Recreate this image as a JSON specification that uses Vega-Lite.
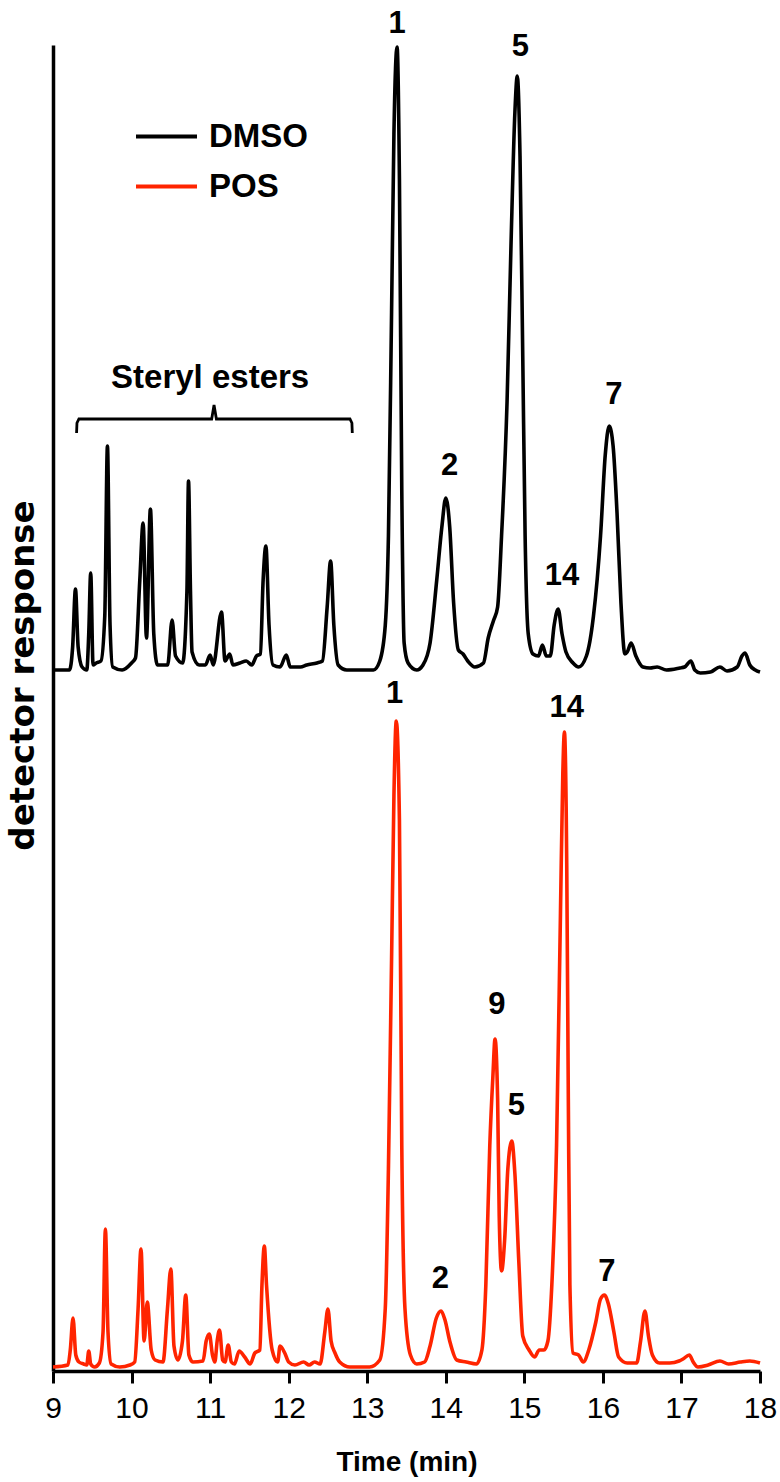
{
  "$schema": "https://vega.github.io/schema/vega-lite/v6.json",
  "width": 707,
  "height": 1326,
  "autosize": {"type": "none"},
  "padding": {"left": 53, "top": 45, "right": 20, "bottom": 111},
  "background": "white",
  "config": {"view": {"stroke": null}, "font": "Liberation Sans"},
  "datasets": {
    "traces": [
      {"series":"DMSO","time":9.00,"response":701},{"series":"DMSO","time":9.21,"response":701},{"series":"DMSO","time":9.25,"response":724},{"series":"DMSO","time":9.286,"response":782},{"series":"DMSO","time":9.32,"response":724},{"series":"DMSO","time":9.37,"response":704},{"series":"DMSO","time":9.43,"response":701},{"series":"DMSO","time":9.455,"response":737},{"series":"DMSO","time":9.48,"response":798},{"series":"DMSO","time":9.51,"response":706},{"series":"DMSO","time":9.55,"response":708},{"series":"DMSO","time":9.61,"response":710},{"series":"DMSO","time":9.659,"response":755},{"series":"DMSO","time":9.693,"response":925},{"series":"DMSO","time":9.726,"response":746},{"series":"DMSO","time":9.76,"response":704},{"series":"DMSO","time":9.88,"response":701},{"series":"DMSO","time":10.0,"response":708},{"series":"DMSO","time":10.05,"response":713},{"series":"DMSO","time":10.105,"response":791},{"series":"DMSO","time":10.147,"response":848},{"series":"DMSO","time":10.19,"response":733},{"series":"DMSO","time":10.24,"response":862},{"series":"DMSO","time":10.283,"response":737},{"series":"DMSO","time":10.33,"response":706},{"series":"DMSO","time":10.46,"response":706},{"series":"DMSO","time":10.516,"response":751},{"series":"DMSO","time":10.56,"response":715},{"series":"DMSO","time":10.65,"response":708},{"series":"DMSO","time":10.705,"response":780},{"series":"DMSO","time":10.725,"response":890},{"series":"DMSO","time":10.75,"response":780},{"series":"DMSO","time":10.77,"response":719},{"series":"DMSO","time":10.86,"response":706},{"series":"DMSO","time":10.94,"response":706},{"series":"DMSO","time":11.0,"response":716},{"series":"DMSO","time":11.04,"response":706},{"series":"DMSO","time":11.145,"response":759},{"series":"DMSO","time":11.19,"response":710},{"series":"DMSO","time":11.25,"response":717},{"series":"DMSO","time":11.29,"response":706},{"series":"DMSO","time":11.38,"response":708},{"series":"DMSO","time":11.46,"response":710},{"series":"DMSO","time":11.53,"response":706},{"series":"DMSO","time":11.59,"response":715},{"series":"DMSO","time":11.64,"response":717},{"series":"DMSO","time":11.675,"response":791},{"series":"DMSO","time":11.71,"response":825},{"series":"DMSO","time":11.75,"response":746},{"series":"DMSO","time":11.80,"response":706},{"series":"DMSO","time":11.89,"response":704},{"series":"DMSO","time":11.97,"response":716},{"series":"DMSO","time":12.02,"response":704},{"series":"DMSO","time":12.15,"response":704},{"series":"DMSO","time":12.23,"response":706},{"series":"DMSO","time":12.36,"response":708},{"series":"DMSO","time":12.43,"response":710},{"series":"DMSO","time":12.49,"response":764},{"series":"DMSO","time":12.534,"response":810},{"series":"DMSO","time":12.575,"response":746},{"series":"DMSO","time":12.63,"response":706},{"series":"DMSO","time":12.74,"response":701},{"series":"DMSO","time":12.91,"response":701},{"series":"DMSO","time":13.08,"response":701},{"series":"DMSO","time":13.16,"response":710},{"series":"DMSO","time":13.23,"response":746},{"series":"DMSO","time":13.27,"response":835},{"series":"DMSO","time":13.31,"response":1059},{"series":"DMSO","time":13.34,"response":1237},{"series":"DMSO","time":13.38,"response":1324},{"series":"DMSO","time":13.41,"response":1192},{"series":"DMSO","time":13.44,"response":880},{"series":"DMSO","time":13.47,"response":728},{"series":"DMSO","time":13.52,"response":708},{"series":"DMSO","time":13.63,"response":701},{"series":"DMSO","time":13.71,"response":706},{"series":"DMSO","time":13.80,"response":728},{"series":"DMSO","time":13.885,"response":791},{"series":"DMSO","time":13.95,"response":844},{"series":"DMSO","time":14.0,"response":873},{"series":"DMSO","time":14.05,"response":844},{"series":"DMSO","time":14.10,"response":768},{"series":"DMSO","time":14.16,"response":721},{"series":"DMSO","time":14.22,"response":717},{"series":"DMSO","time":14.28,"response":710},{"series":"DMSO","time":14.37,"response":704},{"series":"DMSO","time":14.48,"response":708},{"series":"DMSO","time":14.54,"response":733},{"series":"DMSO","time":14.61,"response":751},{"series":"DMSO","time":14.66,"response":764},{"series":"DMSO","time":14.71,"response":835},{"series":"DMSO","time":14.78,"response":969},{"series":"DMSO","time":14.83,"response":1125},{"series":"DMSO","time":14.88,"response":1259},{"series":"DMSO","time":14.91,"response":1295},{"series":"DMSO","time":14.945,"response":1215},{"series":"DMSO","time":14.98,"response":1014},{"series":"DMSO","time":15.01,"response":835},{"series":"DMSO","time":15.05,"response":737},{"series":"DMSO","time":15.11,"response":717},{"series":"DMSO","time":15.18,"response":715},{"series":"DMSO","time":15.23,"response":726},{"series":"DMSO","time":15.28,"response":715},{"series":"DMSO","time":15.33,"response":715},{"series":"DMSO","time":15.38,"response":746},{"series":"DMSO","time":15.43,"response":762},{"series":"DMSO","time":15.48,"response":737},{"series":"DMSO","time":15.53,"response":719},{"series":"DMSO","time":15.62,"response":708},{"series":"DMSO","time":15.69,"response":704},{"series":"DMSO","time":15.79,"response":715},{"series":"DMSO","time":15.88,"response":755},{"series":"DMSO","time":15.97,"response":835},{"series":"DMSO","time":16.03,"response":916},{"series":"DMSO","time":16.08,"response":945},{"series":"DMSO","time":16.13,"response":925},{"series":"DMSO","time":16.18,"response":858},{"series":"DMSO","time":16.23,"response":768},{"series":"DMSO","time":16.28,"response":717},{"series":"DMSO","time":16.31,"response":719},{"series":"DMSO","time":16.36,"response":728},{"series":"DMSO","time":16.42,"response":715},{"series":"DMSO","time":16.51,"response":704},{"series":"DMSO","time":16.60,"response":703},{"series":"DMSO","time":16.69,"response":704},{"series":"DMSO","time":16.81,"response":701},{"series":"DMSO","time":16.98,"response":703},{"series":"DMSO","time":17.04,"response":704},{"series":"DMSO","time":17.12,"response":710},{"series":"DMSO","time":17.17,"response":701},{"series":"DMSO","time":17.24,"response":698},{"series":"DMSO","time":17.37,"response":699},{"series":"DMSO","time":17.49,"response":704},{"series":"DMSO","time":17.58,"response":700},{"series":"DMSO","time":17.71,"response":704},{"series":"DMSO","time":17.77,"response":715},{"series":"DMSO","time":17.81,"response":718},{"series":"DMSO","time":17.87,"response":706},{"series":"DMSO","time":17.94,"response":701},{"series":"DMSO","time":18.0,"response":699},
      {"series":"POS","time":9.00,"response":4},{"series":"POS","time":9.19,"response":6},{"series":"POS","time":9.22,"response":21},{"series":"POS","time":9.255,"response":53},{"series":"POS","time":9.29,"response":16},{"series":"POS","time":9.33,"response":9},{"series":"POS","time":9.39,"response":7},{"series":"POS","time":9.43,"response":6},{"series":"POS","time":9.455,"response":20},{"series":"POS","time":9.48,"response":7},{"series":"POS","time":9.53,"response":4},{"series":"POS","time":9.59,"response":8},{"series":"POS","time":9.637,"response":39},{"series":"POS","time":9.667,"response":142},{"series":"POS","time":9.70,"response":39},{"series":"POS","time":9.74,"response":7},{"series":"POS","time":9.85,"response":4},{"series":"POS","time":9.98,"response":6},{"series":"POS","time":10.04,"response":9},{"series":"POS","time":10.083,"response":62},{"series":"POS","time":10.12,"response":122},{"series":"POS","time":10.16,"response":30},{"series":"POS","time":10.20,"response":69},{"series":"POS","time":10.25,"response":21},{"series":"POS","time":10.30,"response":11},{"series":"POS","time":10.40,"response":9},{"series":"POS","time":10.457,"response":62},{"series":"POS","time":10.50,"response":102},{"series":"POS","time":10.54,"response":25},{"series":"POS","time":10.59,"response":11},{"series":"POS","time":10.648,"response":30},{"series":"POS","time":10.69,"response":76},{"series":"POS","time":10.73,"response":16},{"series":"POS","time":10.78,"response":9},{"series":"POS","time":10.91,"response":10},{"series":"POS","time":10.95,"response":30},{"series":"POS","time":10.99,"response":37},{"series":"POS","time":11.03,"response":16},{"series":"POS","time":11.06,"response":9},{"series":"POS","time":11.09,"response":30},{"series":"POS","time":11.12,"response":41},{"series":"POS","time":11.16,"response":11},{"series":"POS","time":11.19,"response":9},{"series":"POS","time":11.23,"response":26},{"series":"POS","time":11.27,"response":9},{"series":"POS","time":11.31,"response":7},{"series":"POS","time":11.37,"response":20},{"series":"POS","time":11.44,"response":14},{"series":"POS","time":11.51,"response":7},{"series":"POS","time":11.57,"response":18},{"series":"POS","time":11.633,"response":21},{"series":"POS","time":11.66,"response":86},{"series":"POS","time":11.69,"response":125},{"series":"POS","time":11.718,"response":86},{"series":"POS","time":11.79,"response":21},{"series":"POS","time":11.86,"response":9},{"series":"POS","time":11.89,"response":25},{"series":"POS","time":11.95,"response":18},{"series":"POS","time":12.0,"response":9},{"series":"POS","time":12.08,"response":6},{"series":"POS","time":12.19,"response":9},{"series":"POS","time":12.26,"response":6},{"series":"POS","time":12.33,"response":9},{"series":"POS","time":12.40,"response":7},{"series":"POS","time":12.46,"response":39},{"series":"POS","time":12.50,"response":62},{"series":"POS","time":12.54,"response":30},{"series":"POS","time":12.59,"response":18},{"series":"POS","time":12.65,"response":9},{"series":"POS","time":12.78,"response":4},{"series":"POS","time":13.03,"response":4},{"series":"POS","time":13.16,"response":11},{"series":"POS","time":13.23,"response":63},{"series":"POS","time":13.27,"response":202},{"series":"POS","time":13.31,"response":412},{"series":"POS","time":13.34,"response":575},{"series":"POS","time":13.37,"response":650},{"series":"POS","time":13.41,"response":551},{"series":"POS","time":13.44,"response":225},{"series":"POS","time":13.48,"response":63},{"series":"POS","time":13.55,"response":16},{"series":"POS","time":13.63,"response":7},{"series":"POS","time":13.73,"response":9},{"series":"POS","time":13.80,"response":25},{"series":"POS","time":13.88,"response":53},{"series":"POS","time":13.94,"response":60},{"series":"POS","time":13.99,"response":51},{"series":"POS","time":14.05,"response":30},{"series":"POS","time":14.14,"response":11},{"series":"POS","time":14.26,"response":9},{"series":"POS","time":14.39,"response":7},{"series":"POS","time":14.46,"response":21},{"series":"POS","time":14.51,"response":86},{"series":"POS","time":14.56,"response":225},{"series":"POS","time":14.60,"response":295},{"series":"POS","time":14.627,"response":332},{"series":"POS","time":14.66,"response":272},{"series":"POS","time":14.68,"response":156},{"series":"POS","time":14.71,"response":100},{"series":"POS","time":14.75,"response":132},{"series":"POS","time":14.79,"response":202},{"series":"POS","time":14.84,"response":230},{"series":"POS","time":14.88,"response":197},{"series":"POS","time":14.93,"response":109},{"series":"POS","time":14.98,"response":35},{"series":"POS","time":15.06,"response":21},{"series":"POS","time":15.13,"response":14},{"series":"POS","time":15.19,"response":21},{"series":"POS","time":15.25,"response":21},{"series":"POS","time":15.30,"response":30},{"series":"POS","time":15.35,"response":86},{"series":"POS","time":15.41,"response":225},{"series":"POS","time":15.46,"response":458},{"series":"POS","time":15.49,"response":598},{"series":"POS","time":15.51,"response":639},{"series":"POS","time":15.54,"response":505},{"series":"POS","time":15.56,"response":272},{"series":"POS","time":15.58,"response":86},{"series":"POS","time":15.62,"response":18},{"series":"POS","time":15.69,"response":16},{"series":"POS","time":15.75,"response":9},{"series":"POS","time":15.82,"response":21},{"series":"POS","time":15.91,"response":49},{"series":"POS","time":15.97,"response":72},{"series":"POS","time":16.02,"response":76},{"series":"POS","time":16.07,"response":67},{"series":"POS","time":16.14,"response":39},{"series":"POS","time":16.20,"response":14},{"series":"POS","time":16.31,"response":8},{"series":"POS","time":16.43,"response":8},{"series":"POS","time":16.48,"response":30},{"series":"POS","time":16.535,"response":60},{"series":"POS","time":16.58,"response":35},{"series":"POS","time":16.63,"response":16},{"series":"POS","time":16.72,"response":8},{"series":"POS","time":16.85,"response":8},{"series":"POS","time":16.97,"response":10},{"series":"POS","time":17.02,"response":12},{"series":"POS","time":17.10,"response":16},{"series":"POS","time":17.15,"response":9},{"series":"POS","time":17.21,"response":4},{"series":"POS","time":17.34,"response":6},{"series":"POS","time":17.49,"response":10},{"series":"POS","time":17.60,"response":7},{"series":"POS","time":17.75,"response":9},{"series":"POS","time":17.87,"response":10},{"series":"POS","time":18.0,"response":8}
    ],
    "peaks": [
      {"series":"DMSO","peak":"1","time":13.38,"response":1338},
      {"series":"DMSO","peak":"5","time":14.95,"response":1315},
      {"series":"DMSO","peak":"2","time":14.05,"response":896},
      {"series":"DMSO","peak":"14","time":15.48,"response":786},
      {"series":"DMSO","peak":"7","time":16.14,"response":967},
      {"series":"POS","peak":"1","time":13.35,"response":668},
      {"series":"POS","peak":"14","time":15.54,"response":654},
      {"series":"POS","peak":"9","time":14.65,"response":357},
      {"series":"POS","peak":"5","time":14.90,"response":256},
      {"series":"POS","peak":"2","time":13.93,"response":83},
      {"series":"POS","peak":"7","time":16.05,"response":90}
    ],
    "group": [{"name":"Steryl esters","time":11.0,"response":983}],
    "bracket": [
      {"time":9.30,"response":938},{"time":9.305,"response":948},{"time":9.33,"response":952},
      {"time":11.02,"response":952},{"time":11.05,"response":966},{"time":11.08,"response":952},
      {"time":12.78,"response":952},{"time":12.805,"response":948},{"time":12.81,"response":938}
    ]
  },
  "encoding": {
    "x": {
      "field": "time", "type": "quantitative",
      "scale": {"domain": [9, 18], "nice": false, "zero": false},
      "axis": {
        "values": [9,10,11,12,13,14,15,16,17,18],
        "grid": false, "tickSize": 12, "tickWidth": 3, "tickColor": "black",
        "domainWidth": 3.5, "domainColor": "black",
        "labelFont": "Liberation Sans", "labelFontSize": 30, "labelColor": "black",
        "labelPadding": 10, "labelFlush": false, "labelOverlap": false,
        "title": "Time (min)", "titleFont": "Liberation Sans", "titleFontSize": 28,
        "titleFontWeight": "bold", "titleColor": "black",
        "titleBaseline": "alphabetic", "titleY": 99
      }
    },
    "y": {
      "field": "response", "type": "quantitative",
      "scale": {"domain": [0, 1326], "nice": false, "zero": false},
      "axis": {
        "grid": false, "ticks": false, "labels": false,
        "domainWidth": 3.5, "domainColor": "black",
        "title": "detector response", "titleFont": "DejaVu Sans", "titleFontSize": 34,
        "titleFontWeight": "bold", "titleColor": "black",
        "titleX": -13, "titleY": 630
      }
    }
  },
  "layer": [
    {
      "data": {"name": "traces"},
      "mark": {"type": "line", "strokeWidth": 3.6, "interpolate": "monotone"},
      "encoding": {
        "color": {
          "field": "series", "type": "nominal",
          "scale": {"domain": ["DMSO", "POS"], "range": ["#000000", "#ff2400"]},
          "legend": {
            "orient": "none", "legendX": 81, "legendY": 59, "title": null,
            "symbolType": "stroke", "symbolSize": 3721, "symbolStrokeWidth": 3.8,
            "labelFont": "Liberation Sans", "labelFontSize": 33, "labelFontWeight": "bold",
            "labelColor": "black", "labelOffset": 10, "rowPadding": -12.5, "padding": 0
          }
        }
      }
    },
    {
      "data": {"name": "bracket"},
      "mark": {"type": "line", "strokeWidth": 2.8, "color": "black", "interpolate": "linear"},
      "encoding": {}
    },
    {
      "data": {"name": "peaks"},
      "mark": {"type": "text", "font": "Liberation Sans", "fontSize": 31, "fontWeight": "bold", "align": "center", "baseline": "alphabetic", "color": "black"},
      "encoding": {"text": {"field": "peak"}}
    },
    {
      "data": {"name": "group"},
      "mark": {"type": "text", "font": "Liberation Sans", "fontSize": 33, "fontWeight": "bold", "align": "center", "baseline": "alphabetic", "color": "black"},
      "encoding": {"text": {"field": "name"}}
    }
  ]
}
